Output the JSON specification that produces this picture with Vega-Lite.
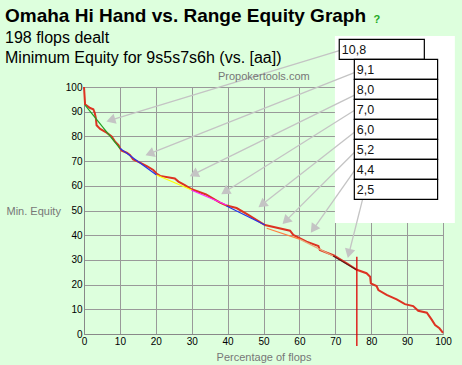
{
  "$schema": "https://vega.github.io/schema/vega-lite/v6.json",
  "width": 359,
  "height": 247,
  "autosize": {"type": "none"},
  "padding": {"left": 84, "top": 87, "right": 19, "bottom": 31},
  "background": "#ddffdd",
  "title": {
    "text": "Omaha Hi Hand vs. Range Equity Graph",
    "subtitle": ["198 flops dealt", "Minimum Equity for 9s5s7s6h (vs. [aa])"],
    "anchor": "start",
    "frame": "group",
    "dx": -79,
    "offset": -52,
    "font": "Liberation Sans",
    "fontSize": 19,
    "fontWeight": "bold",
    "color": "#000000",
    "subtitleFont": "Liberation Sans",
    "subtitleFontSize": 16,
    "subtitleColor": "#000000",
    "subtitleLineHeight": 20,
    "subtitlePadding": 4
  },
  "datasets": {
    "curve": [
      {"x": 0, "y": 100}, {"x": 0.3, "y": 93}, {"x": 1.7, "y": 91.5}, {"x": 2.6, "y": 91},
      {"x": 3, "y": 89.5}, {"x": 3.3, "y": 87.4}, {"x": 3.5, "y": 84.5}, {"x": 4.5, "y": 83},
      {"x": 6.3, "y": 81.5}, {"x": 7.7, "y": 80}, {"x": 8.6, "y": 78}, {"x": 9.6, "y": 76.5},
      {"x": 10, "y": 75.3}, {"x": 10.5, "y": 74.2}, {"x": 11.9, "y": 73.4}, {"x": 12.8, "y": 72.5},
      {"x": 13.7, "y": 70.7}, {"x": 15.6, "y": 69.4}, {"x": 17.5, "y": 68}, {"x": 19.3, "y": 66.4},
      {"x": 20.2, "y": 65}, {"x": 21.2, "y": 64}, {"x": 25.3, "y": 63}, {"x": 26.3, "y": 61.7},
      {"x": 28.1, "y": 60.3}, {"x": 30, "y": 58.6}, {"x": 34, "y": 56.5}, {"x": 37.9, "y": 53.2},
      {"x": 39.7, "y": 52}, {"x": 42.5, "y": 51}, {"x": 46, "y": 48}, {"x": 50.4, "y": 44.1},
      {"x": 57.4, "y": 41.8}, {"x": 58.3, "y": 40.1}, {"x": 60.2, "y": 38.7}, {"x": 62, "y": 37.4},
      {"x": 65.3, "y": 35.6}, {"x": 65.7, "y": 34}, {"x": 69.6, "y": 31.8}, {"x": 73.2, "y": 28.6},
      {"x": 76, "y": 26}, {"x": 78.7, "y": 24.6}, {"x": 79.7, "y": 23.2}, {"x": 79.9, "y": 20.5},
      {"x": 81.5, "y": 19.4}, {"x": 82, "y": 17.8}, {"x": 84.3, "y": 15.8}, {"x": 87.1, "y": 14},
      {"x": 89.4, "y": 12.1}, {"x": 91.7, "y": 11.3}, {"x": 93.1, "y": 9.4}, {"x": 95.5, "y": 8.6},
      {"x": 96.9, "y": 5.7}, {"x": 97.8, "y": 3.6}, {"x": 99, "y": 2.3}, {"x": 100, "y": 0.5}
    ],
    "segments": [
      {"seg": "a", "x": 0.3, "y": 92.7}, {"seg": "a", "x": 10, "y": 75.2},
      {"seg": "b", "x": 10, "y": 75.2}, {"seg": "b", "x": 20.2, "y": 64.4},
      {"seg": "c", "x": 20.2, "y": 64.4}, {"seg": "c", "x": 30, "y": 58.3},
      {"seg": "d", "x": 30, "y": 58.2}, {"seg": "d", "x": 39.7, "y": 52.2},
      {"seg": "e", "x": 39.7, "y": 51.8}, {"seg": "e", "x": 50.4, "y": 44.1},
      {"seg": "f", "x": 50.9, "y": 42.8}, {"seg": "f", "x": 60.2, "y": 38.3},
      {"seg": "g", "x": 60.2, "y": 38.3}, {"seg": "g", "x": 69.4, "y": 31.6},
      {"seg": "h", "x": 69.4, "y": 31.6}, {"seg": "h", "x": 76, "y": 25.9}
    ],
    "arrows": [
      {"label": "10,8", "sx": 71.8, "sy": 115.0, "ex": 7.45, "ey": 86.6},
      {"label": "9,1", "sx": 75.5, "sy": 105.9, "ex": 18.3, "ey": 73.0},
      {"label": "8,0", "sx": 75.5, "sy": 96.8, "ex": 30.6, "ey": 64.7},
      {"label": "7,0", "sx": 75.5, "sy": 90.7, "ex": 39.3, "ey": 57.6},
      {"label": "6,0", "sx": 75.5, "sy": 81.9, "ex": 49.6, "ey": 52.4},
      {"label": "5,2", "sx": 75.5, "sy": 73.8, "ex": 56.2, "ey": 45.8},
      {"label": "4,4", "sx": 75.5, "sy": 66.4, "ex": 63.9, "ey": 42.5},
      {"label": "2,5", "sx": 77.7, "sy": 55.1, "ex": 73.8, "ey": 32.6}
    ],
    "boxes": [
      {"label": "10,8", "x1": 71.1, "x2": 94.8, "ytop": 119.3, "ybot": 111.2},
      {"label": "9,1", "x1": 75.3, "x2": 98.5, "ytop": 111.2, "ybot": 103.1},
      {"label": "8,0", "x1": 75.3, "x2": 98.5, "ytop": 103.1, "ybot": 95.0},
      {"label": "7,0", "x1": 75.3, "x2": 98.5, "ytop": 95.0, "ybot": 86.9},
      {"label": "6,0", "x1": 75.3, "x2": 98.5, "ytop": 86.9, "ybot": 78.8},
      {"label": "5,2", "x1": 75.3, "x2": 98.5, "ytop": 78.8, "ybot": 70.7},
      {"label": "4,4", "x1": 75.3, "x2": 98.5, "ytop": 70.7, "ybot": 62.6},
      {"label": "2,5", "x1": 75.3, "x2": 98.5, "ytop": 62.6, "ybot": 54.5}
    ]
  },
  "layer": [
    {
      "data": {"values": [{"x1": 69.9, "x2": 103.3, "y1": 44.9, "y2": 120.6}]},
      "mark": {"type": "rect", "fill": "#ffffff", "stroke": null},
      "encoding": {
        "x": {"field": "x1", "type": "quantitative", "scale": {"domain": [0, 100], "nice": false, "zero": false},
          "axis": {"values": [0,10,20,30,40,50,60,70,80,90,100], "tickCount": 20, "title": "Percentage of flops", "titleY": 26.5, "titleBaseline": "alphabetic"}},
        "x2": {"field": "x2"},
        "y": {"field": "y1", "type": "quantitative", "scale": {"domain": [0, 100], "nice": false, "zero": false},
          "axis": {"values": [0,10,20,30,40,50,60,70,80,90,100], "tickCount": 20, "title": "Min. Equity", "titleAngle": 0, "titleAlign": "left", "titleBaseline": "middle", "titleX": -78, "titleY": 124.5}},
        "y2": {"field": "y2"}
      }
    },
    {
      "data": {"name": "curve"},
      "mark": {"type": "line", "color": "#dd3322", "strokeWidth": 2},
      "encoding": {
        "x": {"field": "x", "type": "quantitative"},
        "y": {"field": "y", "type": "quantitative"}
      }
    },
    {
      "data": {"name": "segments"},
      "mark": {"type": "line", "strokeWidth": 1.2},
      "encoding": {
        "x": {"field": "x", "type": "quantitative"},
        "y": {"field": "y", "type": "quantitative"},
        "color": {"field": "seg", "type": "nominal", "legend": null,
          "scale": {"domain": ["a","b","c","d","e","f","g","h"], "range": ["#22a022","#2233ee","#ffff00","#ff22ff","#2233ee","#ff8040","#e8a878","#5a1a1a"]}}
      }
    },
    {
      "data": {"values": [{"x": 76, "y1": 31.3, "y2": -4.9}]},
      "mark": {"type": "rule", "color": "#dd0000", "strokeWidth": 1.3},
      "encoding": {
        "x": {"field": "x", "type": "quantitative"},
        "y": {"field": "y1", "type": "quantitative"},
        "y2": {"field": "y2"}
      }
    },
    {
      "data": {"name": "arrows"},
      "mark": {"type": "rule", "color": "#c4c4c4", "strokeWidth": 1.3},
      "encoding": {
        "x": {"field": "sx", "type": "quantitative"},
        "y": {"field": "sy", "type": "quantitative"},
        "x2": {"field": "ex"},
        "y2": {"field": "ey"}
      }
    },
    {
      "data": {"name": "arrows"},
      "transform": [{"calculate": "atan2((datum.ex - datum.sx) * 3.59, (datum.ey - datum.sy) * 2.47) * 180 / PI", "as": "ang"}],
      "mark": {"type": "point", "shape": "triangle-up", "filled": true, "size": 110, "color": "#c4c4c4", "opacity": 1},
      "encoding": {
        "x": {"field": "ex", "type": "quantitative"},
        "y": {"field": "ey", "type": "quantitative"},
        "angle": {"field": "ang", "type": "quantitative", "scale": null}
      }
    },
    {
      "data": {"name": "boxes"},
      "mark": {"type": "rect", "fill": "#ffffff", "stroke": "#000000", "strokeWidth": 1.2},
      "encoding": {
        "x": {"field": "x1", "type": "quantitative"},
        "x2": {"field": "x2"},
        "y": {"field": "ytop", "type": "quantitative"},
        "y2": {"field": "ybot"}
      }
    },
    {
      "data": {"name": "boxes"},
      "mark": {"type": "text", "align": "left", "baseline": "alphabetic", "dx": 2.5, "dy": -5, "font": "Liberation Sans", "fontSize": 12.5, "color": "#111111"},
      "encoding": {
        "x": {"field": "x1", "type": "quantitative"},
        "y": {"field": "ybot", "type": "quantitative"},
        "text": {"field": "label"}
      }
    },
    {
      "data": {"values": [{"x": 50.1, "y": 102.8, "label": "Propokertools.com"}]},
      "mark": {"type": "text", "align": "center", "baseline": "alphabetic", "font": "Liberation Sans", "fontSize": 11, "color": "#777777"},
      "encoding": {
        "x": {"field": "x", "type": "quantitative"},
        "y": {"field": "y", "type": "quantitative"},
        "text": {"field": "label"}
      }
    },
    {
      "data": {"values": [{"x": 81.6, "y": 125.9, "label": "?"}]},
      "mark": {"type": "text", "align": "center", "baseline": "alphabetic", "font": "Liberation Sans", "fontSize": 11, "fontWeight": "bold", "color": "#22aa22"},
      "encoding": {
        "x": {"field": "x", "type": "quantitative"},
        "y": {"field": "y", "type": "quantitative"},
        "text": {"field": "label"}
      }
    }
  ],
  "config": {
    "view": {"stroke": null},
    "axis": {
      "labelFont": "Liberation Sans",
      "labelFontSize": 10,
      "labelColor": "#000000",
      "labelPadding": 2,
      "labelFlush": false,
      "labelOverlap": false,
      "ticks": false,
      "tickCount": 20,
      "grid": true,
      "gridColor": "#999999",
      "gridOpacity": 1,
      "gridWidth": 1,
      "domainColor": "#888888",
      "domainWidth": 1,
      "titleFont": "Liberation Sans",
      "titleFontSize": 11,
      "titleFontWeight": "normal",
      "titleColor": "#777777"
    }
  }
}
